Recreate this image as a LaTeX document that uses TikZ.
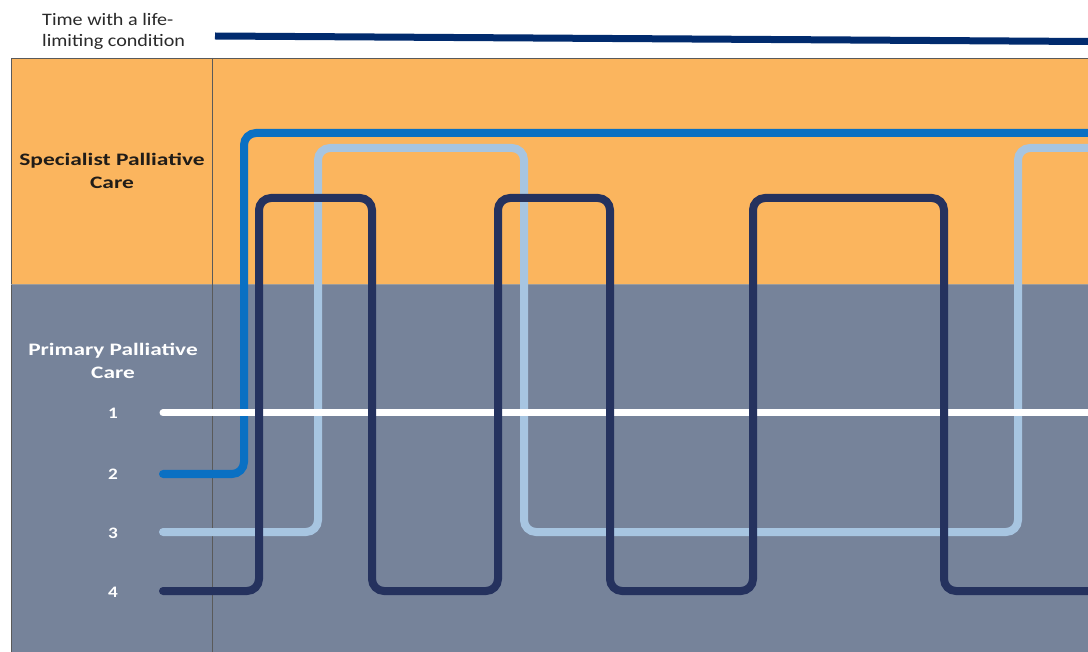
\documentclass[tikz,border=0pt]{standalone}
\usepackage{graphicx}
\usepackage{fontspec}
\setmainfont{Carlito}
\definecolor{bandorange}{HTML}{FBB55E}
\definecolor{bandslate}{HTML}{76839A}
\definecolor{gridgray}{HTML}{5A5A5A}
\definecolor{pathnavy}{HTML}{25325E}
\definecolor{pathblue}{HTML}{0A70C3}
\definecolor{pathlight}{HTML}{A7C5E1}
\definecolor{timenavy}{HTML}{012B6E}
\definecolor{labeldark}{HTML}{2A2A2A}
\definecolor{banddark}{HTML}{201C18}
\newcommand{\wide}[2]{\scalebox{#1}[1]{#2}}
\begin{document}
\begin{tikzpicture}[x=1pt,y=-1pt,
  gridline/.style={draw=gridgray,line width=0.8pt},
  pathline/.style={line width=8pt,rounded corners=12pt,line cap=round},
  bandlabel/.style={font=\fontsize{17.5}{23}\selectfont\bfseries,align=center,inner sep=0pt},
  numlabel/.style={font=\fontsize{16}{18}\selectfont\bfseries,text=white,inner sep=0pt},
  timelabel/.style={font=\fontsize{17.5}{21}\selectfont,text=labeldark,align=left,inner sep=0pt,anchor=west}]
\useasboundingbox (0,0) rectangle (1088,652);
\fill[white] (0,0) rectangle (1088,652);
\fill[bandorange] (11,58) rectangle (1088,284);
\fill[bandslate] (11,284) rectangle (1088,652);
\draw[gridline] (11,652) -- (11,58) -- (1088,58);
\draw[gridline,draw=gridgray!60] (11,284) -- (1088,284);
\draw[gridline] (212,58) -- (212,652);

% time axis
\node[timelabel] (time) at (42,31) {\wide{1.15}{Time with a life-}\\\wide{1.15}{limiting condition}};
\coordinate (t0) at (215,36);
\coordinate (t1) at (1088,41.5);
\draw[timenavy,line width=7pt] (t0) -- (t1);

% band labels
\node[bandlabel,text=banddark] (spec) at (112,171) {\wide{1.34}{Specialist Palliative}\\\wide{1.34}{Care}};
\node[bandlabel,text=white] (prim) at (113,361) {\wide{1.33}{Primary Palliative}\\\wide{1.33}{Care}};

% numbers
\node[numlabel] (n1) at (113,413) {\wide{1.2}{1}};
\node[numlabel] (n2) at (113,474) {\wide{1.2}{2}};
\node[numlabel] (n3) at (113,533) {\wide{1.2}{3}};
\node[numlabel] (n4) at (113,592) {\wide{1.2}{4}};

\coordinate (s1) at (163,413);
\coordinate (s2) at (163,474);
\coordinate (s3) at (163,532);
\coordinate (s4) at (163,591);
\coordinate (e1) at (1092,413);
\coordinate (e2) at (1092,133);
\coordinate (e3) at (1092,148);
\coordinate (e4) at (1092,591);

% pathways
\draw[pathline,pathblue] (s2) -- (244,474) -- (244,133) -- (e2);
\draw[pathline,pathlight] (s3) -- (318,532) -- (318,148) -- (524,148) -- (524,532)
  -- (1018,532) -- (1018,148) -- (e3);
\draw[pathline,white,line width=7pt] (s1) -- (e1);
\draw[pathline,pathnavy] (s4) -- (259,591) -- (259,198) -- (372,198) -- (372,591)
  -- (498,591) -- (498,198) -- (610,198) -- (610,591) -- (753,591) -- (753,198)
  -- (944,198) -- (944,591) -- (e4);
\end{tikzpicture}
\end{document}
